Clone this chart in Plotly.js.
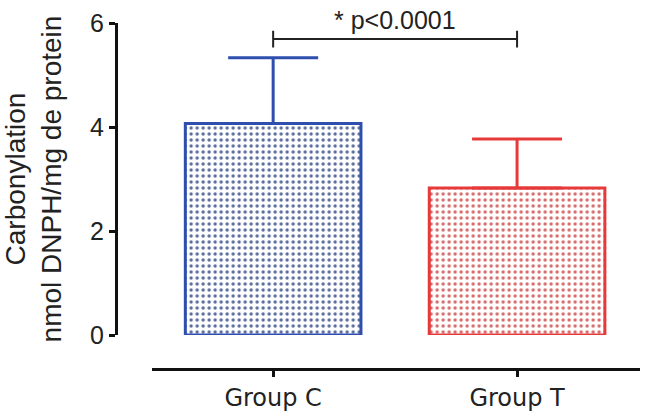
<!DOCTYPE html>
<html>
<head>
<meta charset="utf-8">
<script src="https://cdn.plot.ly/plotly-3.0.1.min.js"></script>
<style>
  html, body { margin: 0; padding: 0; background: #fff; }
  #chart { width: 646px; height: 419px; }
</style>
</head>
<body>
<div id="chart"></div>
<script>
const groups = ["Group C", "Group T"];
const means = [4.07, 2.83];
const errUp = [1.26, 0.94];
const barColors = ["#2f4fae", "#e63a3a"];
const dotColors = ["#5a6c9e", "#d86a6a"];
const yTicks = [0, 2, 4, 6];
const pLabel = "* p<0.0001";
const bracketY = 5.69;

const traces = groups.map((g, i) => ({
  type: "bar",
  x: [g],
  y: [means[i]],
  width: 0.72,
  marker: {
    color: "white",
    line: { color: barColors[i], width: 3 },
    pattern: { shape: ".", size: 6, solidity: 0.25, fgcolor: dotColors[i], bgcolor: "white" }
  },
  error_y: {
    type: "data",
    symmetric: false,
    array: [errUp[i]],
    arrayminus: [0],
    color: barColors[i],
    thickness: 3,
    width: 45
  },
  showlegend: false,
  hoverinfo: "skip"
}));

const layout = {
  width: 646,
  height: 419,
  margin: { l: 116, r: 6, t: 23, b: 50 },
  paper_bgcolor: "white",
  plot_bgcolor: "white",
  barmode: "overlay",
  showlegend: false,
  font: { family: "Liberation Sans", color: "#111" },
  xaxis: {
    domain: [0.069, 1],
    range: [-0.496, 1.504],
    anchor: "free",
    position: 0,
    showline: true,
    linecolor: "#111",
    linewidth: 3,
    ticks: "outside",
    ticklen: 6,
    tickwidth: 3,
    tickcolor: "#111",
    showgrid: false,
    zeroline: false,
    tickfont: { family: "DejaVu Sans", size: 24, color: "#222" }
  },
  yaxis: {
    domain: [0.098, 1],
    range: [0, 6],
    anchor: "free",
    position: 0,
    tickvals: yTicks,
    showline: true,
    linecolor: "#111",
    linewidth: 3,
    ticks: "outside",
    ticklen: 6,
    tickwidth: 3,
    tickcolor: "#111",
    showgrid: false,
    zeroline: false,
    tickfont: { size: 25, color: "#222" },
    title: {
      text: "Carbonylation<br>nmol DNPH/mg de protein",
      font: { size: 28, color: "#222" },
      standoff: 25
    }
  },
  shapes: [
    { type: "line", xref: "x", yref: "y", x0: 0, x1: 1, y0: bracketY, y1: bracketY, line: { color: "#222", width: 2 } },
    { type: "line", xref: "x", yref: "y", x0: 0, x1: 0, y0: bracketY - 0.16, y1: bracketY + 0.16, line: { color: "#222", width: 2 } },
    { type: "line", xref: "x", yref: "y", x0: 1, x1: 1, y0: bracketY - 0.16, y1: bracketY + 0.16, line: { color: "#222", width: 2 } }
  ],
  annotations: [
    {
      text: pLabel, xref: "x", yref: "y", x: 0.5, y: bracketY,
      yanchor: "bottom", yshift: 3, showarrow: false,
      font: { size: 25, color: "#222" }
    }
  ]
};

Plotly.newPlot("chart", traces, layout, { displayModeBar: false, staticPlot: true });
</script>
</body>
</html>
